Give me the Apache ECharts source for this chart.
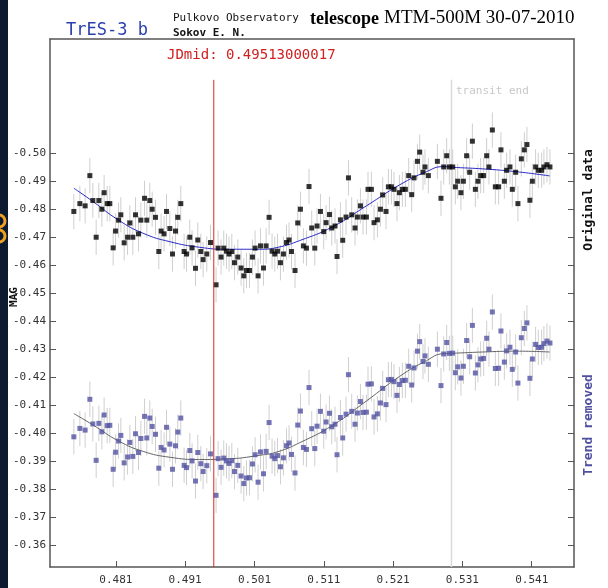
<!DOCTYPE html>
<html>
<head>
<meta charset="utf-8">
<title>TrES-3 b</title>
<script src="https://cdn.jsdelivr.net/npm/echarts@6/dist/echarts.min.js"></script>
<style>html,body{margin:0;padding:0;background:#fff}</style>
</head>
<body>
<div id="main" style="width:608px;height:588px;"></div>
<script>
// JD (fraction of day) of each frame
var jd = [
0.47494,0.47581,0.47657,0.47725,0.47768,0.47816,0.47855,0.47898,0.47931,0.47975,
0.48013,0.48061,0.48096,0.48139,0.48172,0.48220,0.48269,0.48302,0.48345,0.48384,
0.48427,0.48461,0.48514,0.48547,0.48590,0.48624,0.48672,0.48720,0.48753,0.48796,
0.48831,0.48879,0.48917,0.48961,0.48994,0.49037,0.49085,0.49120,0.49167,0.49200,
0.49249,0.49282,0.49326,0.49359,0.49412,0.49466,0.49546,0.49575,0.49618,0.49657,
0.49696,0.49733,0.49773,0.49812,0.49859,0.49907,0.49946,0.49985,0.50028,0.50071,
0.50109,0.50152,0.50187,0.50230,0.50268,0.50311,0.50354,0.50393,0.50432,0.50475,
0.50518,0.50562,0.50599,0.50634,0.50685,0.50724,0.50763,0.50806,0.50850,0.50887,
0.50926,0.50970,0.51003,0.51052,0.51099,0.51133,0.51182,0.51215,0.51262,0.51291,
0.51340,0.51373,0.51421,0.51456,0.51503,0.51551,0.51585,0.51629,0.51666,0.51715,
0.51738,0.51787,0.51825,0.51874,0.51917,0.51950,0.51998,0.52032,0.52076,0.52113,
0.52156,0.52191,0.52234,0.52277,0.52325,0.52368,0.52402,0.52451,0.52484,0.52531,
0.52560,0.52609,0.52739,0.52791,0.52830,0.52873,0.52912,0.52960,0.52998,0.53032,
0.53079,0.53114,0.53161,0.53205,0.53244,0.53287,0.53324,0.53363,0.53407,0.53450,
0.53483,0.53532,0.53575,0.53623,0.53656,0.53705,0.53738,0.53786,0.53820,0.53868,
0.53901,0.53950,0.53993,0.54031,0.54074,0.54109,0.54156,0.54195,0.54243,0.54276,
0.54320,0.54363];

// original magnitudes
var magRaw = [
-0.4792,-0.4820,-0.4812,-0.4920,-0.4831,-0.4700,-0.4831,-0.4800,-0.4859,-0.4820,
-0.4820,-0.4662,-0.4722,-0.4761,-0.4780,-0.4680,-0.4700,-0.4751,-0.4700,-0.4780,
-0.4712,-0.4761,-0.4839,-0.4761,-0.4831,-0.4800,-0.4771,-0.4649,-0.4722,-0.4712,
-0.4792,-0.4731,-0.4640,-0.4722,-0.4771,-0.4820,-0.4649,-0.4640,-0.4700,-0.4662,
-0.4589,-0.4690,-0.4649,-0.4620,-0.4640,-0.4681,-0.4530,-0.4661,-0.4629,-0.4661,
-0.4650,-0.4640,-0.4649,-0.4609,-0.4629,-0.4590,-0.4562,-0.4581,-0.4581,-0.4629,
-0.4661,-0.4562,-0.4669,-0.4590,-0.4669,-0.4771,-0.4650,-0.4640,-0.4650,-0.4609,
-0.4640,-0.4681,-0.4690,-0.4649,-0.4581,-0.4751,-0.4800,-0.4669,-0.4661,-0.4881,
-0.4733,-0.4661,-0.4740,-0.4792,-0.4720,-0.4752,-0.4781,-0.4733,-0.4740,-0.4631,
-0.4762,-0.4689,-0.4772,-0.4912,-0.4780,-0.4733,-0.4772,-0.4812,-0.4772,-0.4772,
-0.4871,-0.4871,-0.4752,-0.4762,-0.4800,-0.4851,-0.4792,-0.4880,-0.4880,-0.4871,
-0.4820,-0.4859,-0.4871,-0.4871,-0.4920,-0.4852,-0.4912,-0.4971,-0.5004,-0.4932,
-0.4951,-0.4920,-0.4971,-0.4839,-0.4951,-0.4991,-0.4951,-0.4951,-0.4880,-0.4900,
-0.4859,-0.4900,-0.4991,-0.4932,-0.5043,-0.4871,-0.4900,-0.4920,-0.4920,-0.4991,
-0.4951,-0.5083,-0.4880,-0.4880,-0.5012,-0.4900,-0.4939,-0.4951,-0.4871,-0.4932,
-0.4820,-0.4980,-0.5012,-0.5031,-0.4832,-0.4900,-0.4951,-0.4939,-0.4939,-0.4951,
-0.4959,-0.4951];

// magnitudes with the trend removed (lower curve)
var magFlat = [
-0.3987,-0.4017,-0.4011,-0.4121,-0.4033,-0.3903,-0.4035,-0.4005,-0.4065,-0.4027,
-0.4028,-0.3871,-0.3932,-0.3972,-0.3992,-0.3894,-0.3915,-0.3967,-0.3917,-0.3998,
-0.3931,-0.3981,-0.4060,-0.3983,-0.4054,-0.4024,-0.3996,-0.3875,-0.3949,-0.3940,
-0.4021,-0.3961,-0.3871,-0.3955,-0.4004,-0.4054,-0.3885,-0.3877,-0.3938,-0.3901,
-0.3829,-0.3931,-0.3891,-0.3863,-0.3884,-0.3926,-0.3778,-0.3909,-0.3878,-0.3911,
-0.3901,-0.3892,-0.3902,-0.3863,-0.3885,-0.3847,-0.3820,-0.3840,-0.3841,-0.3890,
-0.3923,-0.3825,-0.3933,-0.3855,-0.3935,-0.4038,-0.3918,-0.3909,-0.3920,-0.3880,
-0.3912,-0.3955,-0.3965,-0.3924,-0.3858,-0.4029,-0.4079,-0.3949,-0.3942,-0.4163,
-0.4016,-0.3945,-0.4025,-0.4078,-0.4007,-0.4040,-0.4071,-0.4023,-0.4032,-0.3923,
-0.4056,-0.3983,-0.4068,-0.4209,-0.4078,-0.4032,-0.4072,-0.4113,-0.4074,-0.4075,
-0.4175,-0.4176,-0.4058,-0.4069,-0.4108,-0.4160,-0.4102,-0.4191,-0.4192,-0.4184,
-0.4135,-0.4174,-0.4188,-0.4189,-0.4239,-0.4172,-0.4233,-0.4293,-0.4327,-0.4256,
-0.4276,-0.4246,-0.4300,-0.4170,-0.4283,-0.4324,-0.4285,-0.4286,-0.4216,-0.4237,
-0.4197,-0.4239,-0.4331,-0.4273,-0.4385,-0.4215,-0.4244,-0.4265,-0.4267,-0.4339,
-0.4300,-0.4433,-0.4231,-0.4232,-0.4365,-0.4254,-0.4294,-0.4307,-0.4228,-0.4290,
-0.4179,-0.4341,-0.4374,-0.4394,-0.4196,-0.4265,-0.4317,-0.4306,-0.4307,-0.4320,
-0.4329,-0.4322];

var magErr = 0.0063;

// model curves
var fitX    = [0.47494,0.47773,0.48133,0.48494,0.48879,0.49311,0.49696,0.50177,0.50440,0.50753,
               0.51233,0.51715,0.52195,0.52580,0.52820,0.53013,0.53397,0.53878,0.54358];
var fitRaw  = [-0.4875,-0.4827,-0.4762,-0.4714,-0.4684,-0.4664,-0.4657,-0.4657,-0.4664,-0.4688,
               -0.4738,-0.4812,-0.4887,-0.4934,-0.4952,-0.4949,-0.4944,-0.4934,-0.4919];
var fitFlat = [-0.4070,-0.4029,-0.3973,-0.3935,-0.3914,-0.3906,-0.3908,-0.3921,-0.3934,-0.3966,
               -0.4029,-0.4115,-0.4203,-0.4259,-0.4284,-0.4286,-0.4290,-0.4293,-0.4290];

var xTicks = [0.481, 0.491, 0.501, 0.511, 0.521, 0.531, 0.541];
var yTicks = [-0.50, -0.49, -0.48, -0.47, -0.46, -0.45, -0.44, -0.43, -0.42, -0.41, -0.40, -0.39, -0.38, -0.37, -0.36];

var jdMid = 0.49513000017;
var transitEnd = 0.52942;
var lineTop = -0.5262;

var mono = '"DejaVu Sans Mono", monospace';
var dom = document.getElementById('main');
var myChart = echarts.init(dom);

function pairs(xs, ys) {
    return xs.map(function (x, i) { return [x, ys[i]]; });
}
function withErr(xs, ys) {
    return xs.map(function (x, i) { return [x, ys[i], magErr]; });
}
// vertical error bar for one point
function errBars(params, api) {
    var x = api.value(0), y = api.value(1), e = api.value(2);
    var a = api.coord([x, y - e]);
    var b = api.coord([x, y + e]);
    return {
        type: 'line',
        shape: { x1: a[0], y1: a[1], x2: b[0], y2: b[1] },
        style: { stroke: '#cfcfcf', lineWidth: 1 }
    };
}

var frame = { show: true, lineStyle: { color: '#555', width: 1.5 } };

var option = {
    animation: false,
    backgroundColor: '#fff',
    grid: { left: 50, right: 34, top: 39, bottom: 21, show: false },
    xAxis: [{
        type: 'value', min: 0.4715, max: 0.5471, position: 'bottom',
        axisLine: frame,
        axisTick: { show: true, inside: true, length: 6, customValues: xTicks, lineStyle: { color: '#555' } },
        axisLabel: { customValues: xTicks, margin: 8, fontFamily: mono, fontSize: 11, color: '#333',
            formatter: function (v) { return v.toFixed(3); } },
        splitLine: { show: false }
    }, {
        type: 'value', min: 0.4715, max: 0.5471, position: 'top',
        axisLine: frame, axisTick: { show: false }, axisLabel: { show: false }, splitLine: { show: false }
    }],
    yAxis: [{
        type: 'value', inverse: true, min: -0.5408, max: -0.3522, position: 'left',
        axisLine: frame,
        axisTick: { show: true, inside: true, length: 6, customValues: yTicks, lineStyle: { color: '#555' } },
        axisLabel: { customValues: yTicks, margin: 4, fontFamily: mono, fontSize: 11, color: '#333',
            formatter: function (v) { return v.toFixed(2); } },
        splitLine: { show: false }
    }, {
        type: 'value', inverse: true, min: -0.5408, max: -0.3522, position: 'right',
        axisLine: frame,
        axisTick: { show: true, inside: true, length: 6, customValues: yTicks, lineStyle: { color: '#555' } },
        axisLabel: { show: false },
        splitLine: { show: false }
    }],
    graphic: [
        { type: 'rect', left: 0, top: 0, z: 100, shape: { width: 8, height: 588 }, style: { fill: '#0d1b31' } },
        { type: 'circle', z: 101, shape: { cx: -1, cy: 221, r: 6 }, style: { fill: 'none', stroke: '#f0a020', lineWidth: 3 } },
        { type: 'circle', z: 101, shape: { cx: -1, cy: 236, r: 6 }, style: { fill: 'none', stroke: '#f0a020', lineWidth: 3 } },
        { type: 'text', left: 66, top: 22, style: { text: 'TrES-3 b', fill: '#2a3fae', font: '17px ' + mono } },
        { type: 'text', left: 173, top: 13, style: { text: 'Pulkovo Observatory', fill: '#111', font: '11px ' + mono } },
        { type: 'text', left: 310, top: 10, style: { text: 'telescope', fill: '#000', font: 'bold 18px "Liberation Serif", serif' } },
        { type: 'text', left: 384, top: 9, style: { text: 'MTM-500M 30-07-2010', fill: '#000', font: '19px "Liberation Serif", serif' } },
        { type: 'text', left: 173, top: 28, style: { text: 'Sokov E. N.', fill: '#111', font: 'bold 11px ' + mono } },
        { type: 'text', left: 167, top: 48, style: { text: 'JDmid: 0.49513000017', fill: '#d02020', font: '14px ' + mono } },
        { type: 'text', left: 456, top: 86, style: { text: 'transit end', fill: '#c8c8c8', font: '11px ' + mono } },
        { type: 'text', x: 14, y: 297, rotation: Math.PI / 2,
          style: { text: 'MAG', fill: '#111', font: 'bold 11px ' + mono, align: 'center', verticalAlign: 'middle' } },
        { type: 'text', x: 589, y: 200, rotation: Math.PI / 2,
          style: { text: 'Original data', fill: '#111', font: 'bold 13px ' + mono, align: 'center', verticalAlign: 'middle' } },
        { type: 'text', x: 589, y: 425, rotation: Math.PI / 2,
          style: { text: 'Trend removed', fill: '#5050a0', font: 'bold 13px ' + mono, align: 'center', verticalAlign: 'middle' } }
    ],
    series: [
        { type: 'custom', renderItem: errBars, data: withErr(jd, magRaw), encode: { x: 0, y: 1 }, z: 1, silent: true },
        { type: 'custom', renderItem: errBars, data: withErr(jd, magFlat), encode: { x: 0, y: 1 }, z: 1, silent: true },
        { type: 'line', data: [[transitEnd, lineTop], [transitEnd, -0.3522]], symbol: 'none',
          lineStyle: { color: '#dadada', width: 1.5 }, z: 2 },
        { type: 'line', data: pairs(fitX, fitRaw), smooth: true, symbol: 'none',
          lineStyle: { color: '#2a2ac8', width: 1 }, z: 3 },
        { type: 'line', data: pairs(fitX, fitFlat), smooth: true, symbol: 'none',
          lineStyle: { color: '#666', width: 1 }, z: 3 },
        { type: 'scatter', data: pairs(jd, magRaw), symbol: 'rect', symbolSize: 5,
          itemStyle: { color: '#000' }, z: 4 },
        { type: 'scatter', data: pairs(jd, magFlat), symbol: 'rect', symbolSize: 5,
          itemStyle: { color: '#5252a2' }, z: 4 },
        { type: 'line', data: [[jdMid, lineTop], [jdMid, -0.3522]], symbol: 'none',
          lineStyle: { color: '#d42a2a', width: 1 }, z: 5 }
    ]
};

myChart.setOption(option);
</script>
</body>
</html>
